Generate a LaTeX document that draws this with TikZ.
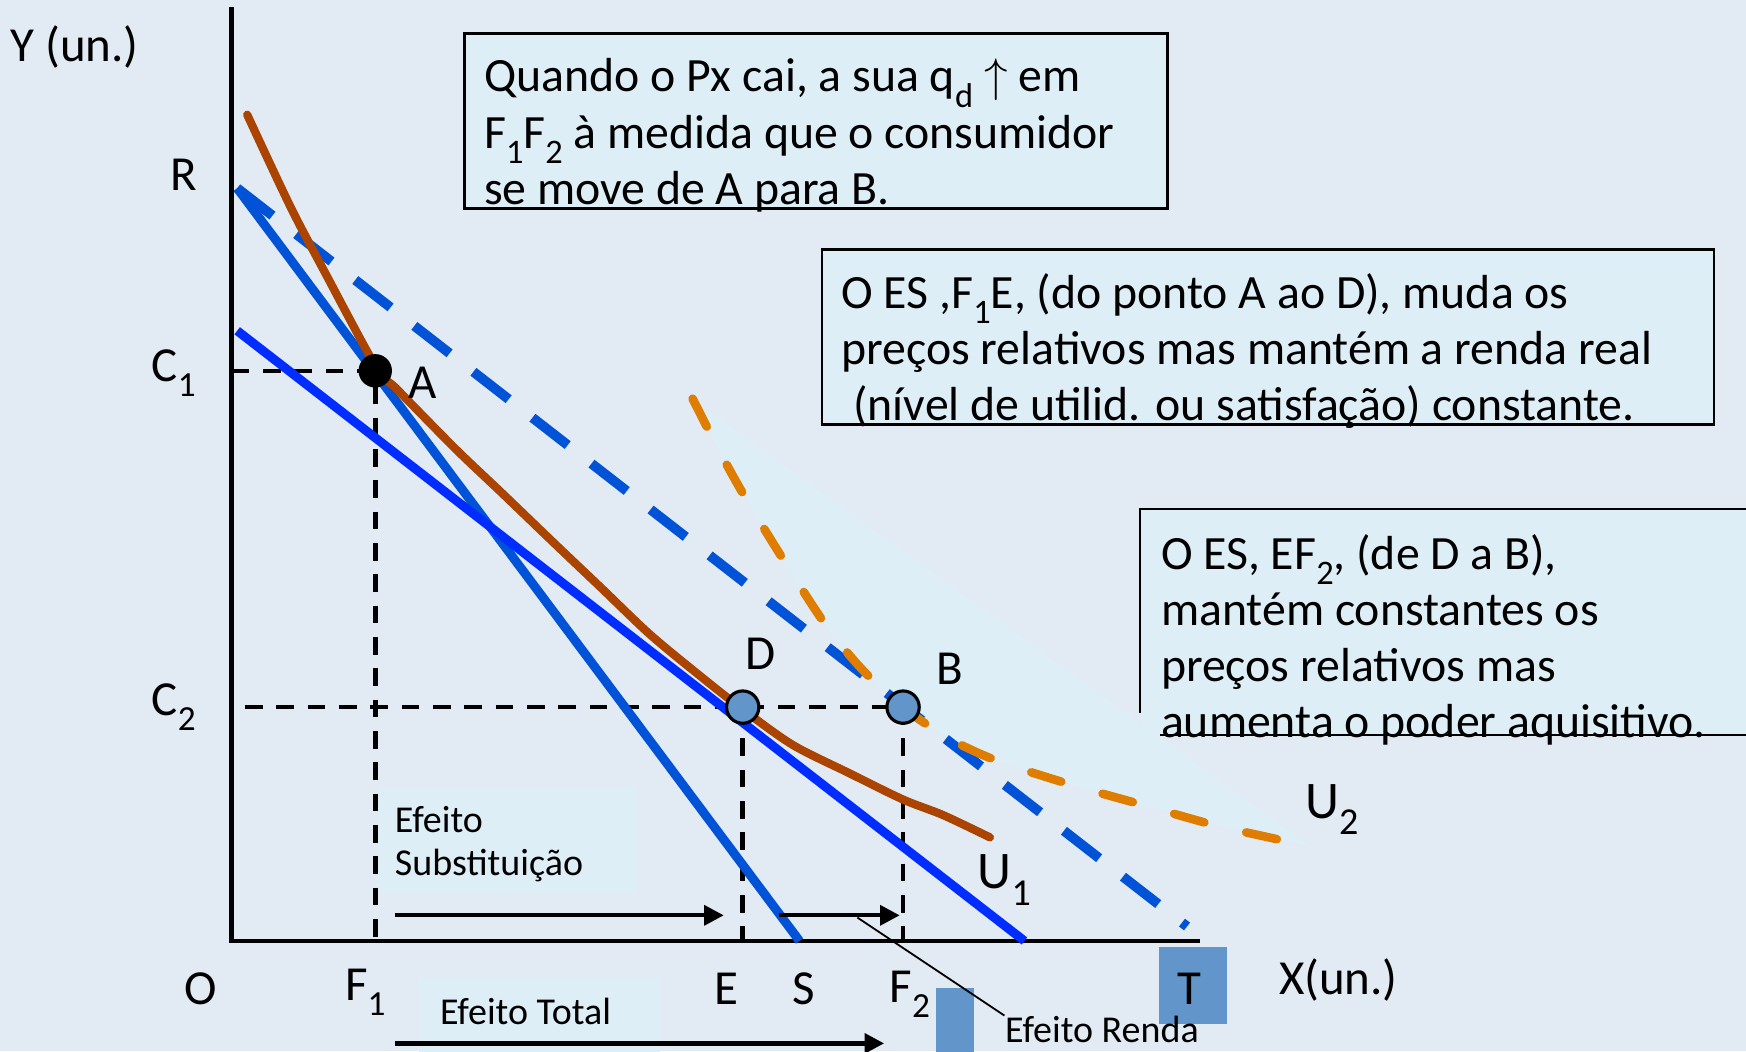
\documentclass[tikz,border=0pt]{standalone}
\usepackage{fontspec}
\setmainfont{Carlito}
\usepackage{tikz}
\usetikzlibrary{arrows.meta, positioning, calc}

\definecolor{bgcol}{RGB}{226,234,243}
\definecolor{notefill}{RGB}{222,238,246}
\definecolor{budgetblue}{RGB}{0,82,214}
\definecolor{compblue}{RGB}{0,45,255}
\definecolor{uonebrown}{RGB}{170,68,0}
\definecolor{utwoorange}{RGB}{222,125,0}
\definecolor{dotblue}{RGB}{98,149,201}

% lowered index, as the slide draws it
\newcommand{\subidx}[1]{\raisebox{-0.32em}{\scalebox{0.72}{#1}}}

\begin{document}
\begin{tikzpicture}[
    x=0.01cm, y=-0.01cm,
    % --- BASE STYLES ---
    axis/.style={draw=black, line width=1.2pt},
    guide/.style={draw=black, line width=1.15pt, dash pattern=on 4.5pt off 3.5pt},
    lbl/.style={font=\fontsize{12.5}{15}\selectfont, inner sep=0pt},
    note/.style={draw=black, line width=0.6pt, fill=notefill, inner sep=0pt},
    notetext/.style={font=\fontsize{12.2}{14.35}\selectfont, align=left, inner sep=0pt, anchor=north west},
    smalltext/.style={font=\fontsize{9.7}{11}\selectfont, align=left, inner sep=0pt},
    % --- CURVES ---
    budget/.style={draw=budgetblue, line width=2.3pt},
    budgetnew/.style={draw=budgetblue, line width=2.5pt, dash pattern=on 11.4pt off 7.7pt},
    compline/.style={draw=compblue, line width=2.3pt},
    uone/.style={draw=uonebrown, line width=2.1pt, line cap=round, line join=round},
    utwo/.style={draw=utwoorange, line width=2.2pt, line cap=round, dash pattern=on 8pt off 11pt},
    effect/.style={draw=black, line width=1.1pt, -{Triangle[length=5pt, width=5pt]}},
    dot/.style={circle, draw=black, line width=0.8pt, fill=dotblue, minimum size=0.29cm, inner sep=0pt},
    patch/.style={fill=dotblue}
]

% ==========================================
% CANVAS
% ==========================================
\fill[bgcol] (0,0) rectangle (1568,944);
\useasboundingbox (0,0) rectangle (1568,944);

\coordinate (orig) at (208,845);
\coordinate (ytop) at (208,6);
\coordinate (xend) at (1078,845);
\coordinate (budR) at (213,169);
\coordinate (budS) at (718,845);
\coordinate (budT) at (1066,832);
\coordinate (compTop) at (213,297);
\coordinate (compEnd) at (920,845);

% faint light patch behind U2
\fill[notefill] plot[smooth] coordinates {(622,358) (646,405) (670,448) (705,505) (742,562) (775,602) (811,635) (850,662) (895,683) (963,705) (1027,723) (1091,741) (1158,756)} -- (1180,762) -- cycle;

% ==========================================
% NOTES
% ==========================================
\node[note, minimum width=6.31cm, minimum height=1.57cm, anchor=north west] (note1) at (416,29) {};
\node[notetext] (note1txt) at (434,52) {Quando o Px cai, a sua q\subidx{d} $\uparrow$ em\\F\subidx{1}F\subidx{2} à medida que o consumidor\\se move de A para B.};

\node[note, minimum width=8.01cm, minimum height=1.57cm, anchor=north west] (note2) at (737,223) {};
\node[notetext] (note2txt) at (755,245) {O ES ,F\subidx{1}E, (do ponto A ao D), muda os\\preços relativos mas mantém a renda real\\\hspace{0.25em}(nível de utilid. ou satisfação) constante.};

\node[fill=notefill, minimum width=5.44cm, minimum height=2.02cm, anchor=north west, inner sep=0pt] (note3) at (1024,457) {};
\draw[black, line width=0.6pt] (1024,640) -- (note3.north west) -- (note3.north east);
\draw[black, line width=0.6pt] (1042,660) -- (1568,660);
\node[notetext] (note3txt) at (1042,479) {O ES, EF\subidx{2}, (de D a B),\\mantém constantes os\\preços relativos mas\\aumenta o poder aquisitivo.};

% ==========================================
% AXES AND GUIDES
% ==========================================
\draw[axis] (ytop) -- (orig) -- (xend);

\coordinate (ptA) at (337,333);
\coordinate (ptD) at (667,635);
\coordinate (ptB) at (811,635);

\draw[guide] (208,333) -- (ptA);
\draw[guide] (337,347) -- (337,845);
\draw[guide] (220,635) -- (ptB);
\draw[guide] (ptD) -- (667,845);
\draw[guide] (ptB) -- (811,845);

% ==========================================
% BUDGET LINES AND CURVES
% ==========================================
\draw[budget] (budR) -- (budS);
\draw[budgetnew] (budR) -- (budT);
\draw[compline] (compTop) -- (compEnd);

\draw[uone] plot[smooth] coordinates {(222,103) (261,186) (292,245) (338,330) (357,350) (409,403) (450,442) (500,490) (540,528) (584,570) (630,608) (667,637) (712,669) (762,694) (811,718) (847,732) (889,752)};
\draw[utwo] plot[smooth] coordinates {(622,358) (646,405) (670,448) (705,505) (742,562) (775,602) (811,635) (850,662) (895,683) (963,705) (1027,723) (1091,741) (1158,756)};

\node[circle, fill=black, minimum size=0.3cm, inner sep=0pt] (dotA) at (ptA) {};
\node[dot] (dotD) at (ptD) {};
\node[dot] (dotB) at (ptB) {};

% ==========================================
% LABELS
% ==========================================
\node[lbl] (ylbl) at (67,42) {Y (un.)};
\node[lbl] (xlbl) at (1202,880) {X(un.)};
\node[lbl] (lblR) at (165,157) {R};
\node[lbl] (lblC1) at (156,335) {C\subidx{1}};
\node[lbl] (lblC2) at (156,635) {C\subidx{2}};
\node[lbl] (lblO) at (180,888) {O};
\node[lbl] (lblF1) at (328,891) {F\subidx{1}};
\node[lbl] (lblE) at (652,888) {E};
\node[lbl] (lblS) at (722,888) {S};
\node[patch, minimum width=0.34cm, minimum height=0.57cm, anchor=north west, inner sep=0pt] (patchF) at (840,887) {};
\node[lbl] (lblF2) at (817,893) {F\subidx{2}};
\node[patch, minimum width=0.61cm, minimum height=0.69cm, anchor=north west, inner sep=0pt] (patchT) at (1040,850) {};
\node[lbl] (lblT) at (1068,888) {T};

\node[lbl] (lblA) at (380,344) {A};
\node[lbl] (lblD) at (683,587) {D};
\node[lbl] (lblB) at (853,601) {B};
\node[lbl, font=\fontsize{13.5}{16}\selectfont] (lblU1) at (902,790) {U\subidx{1}};
\node[lbl, font=\fontsize{13.5}{16}\selectfont] (lblU2) at (1196,727) {U\subidx{2}};

% ==========================================
% EFFECTS
% ==========================================
\node[fill=notefill, minimum width=2.32cm, minimum height=0.95cm, anchor=north west, inner sep=0pt] (subsbox) at (339,707) {};
\node[smalltext, anchor=west] (substxt) at (354,758) {Efeito\\Substituição};
\node[fill=notefill, minimum width=2.16cm, minimum height=0.67cm, anchor=north west, inner sep=0pt] (totalbox) at (376,877) {};
\node[smalltext] (totaltxt) at (472,908) {Efeito Total};
\node[smalltext, anchor=north west] (rendatxt) at (902,912) {Efeito Renda};

\draw[effect] (355,822) -- (650,822);
\draw[effect] (700,822) -- (808,822);
\draw[effect] (355,937) -- (794,937);
\draw[black, line width=0.45pt] (770,824) -- (rendatxt.north west);

\end{tikzpicture}
\end{document}
